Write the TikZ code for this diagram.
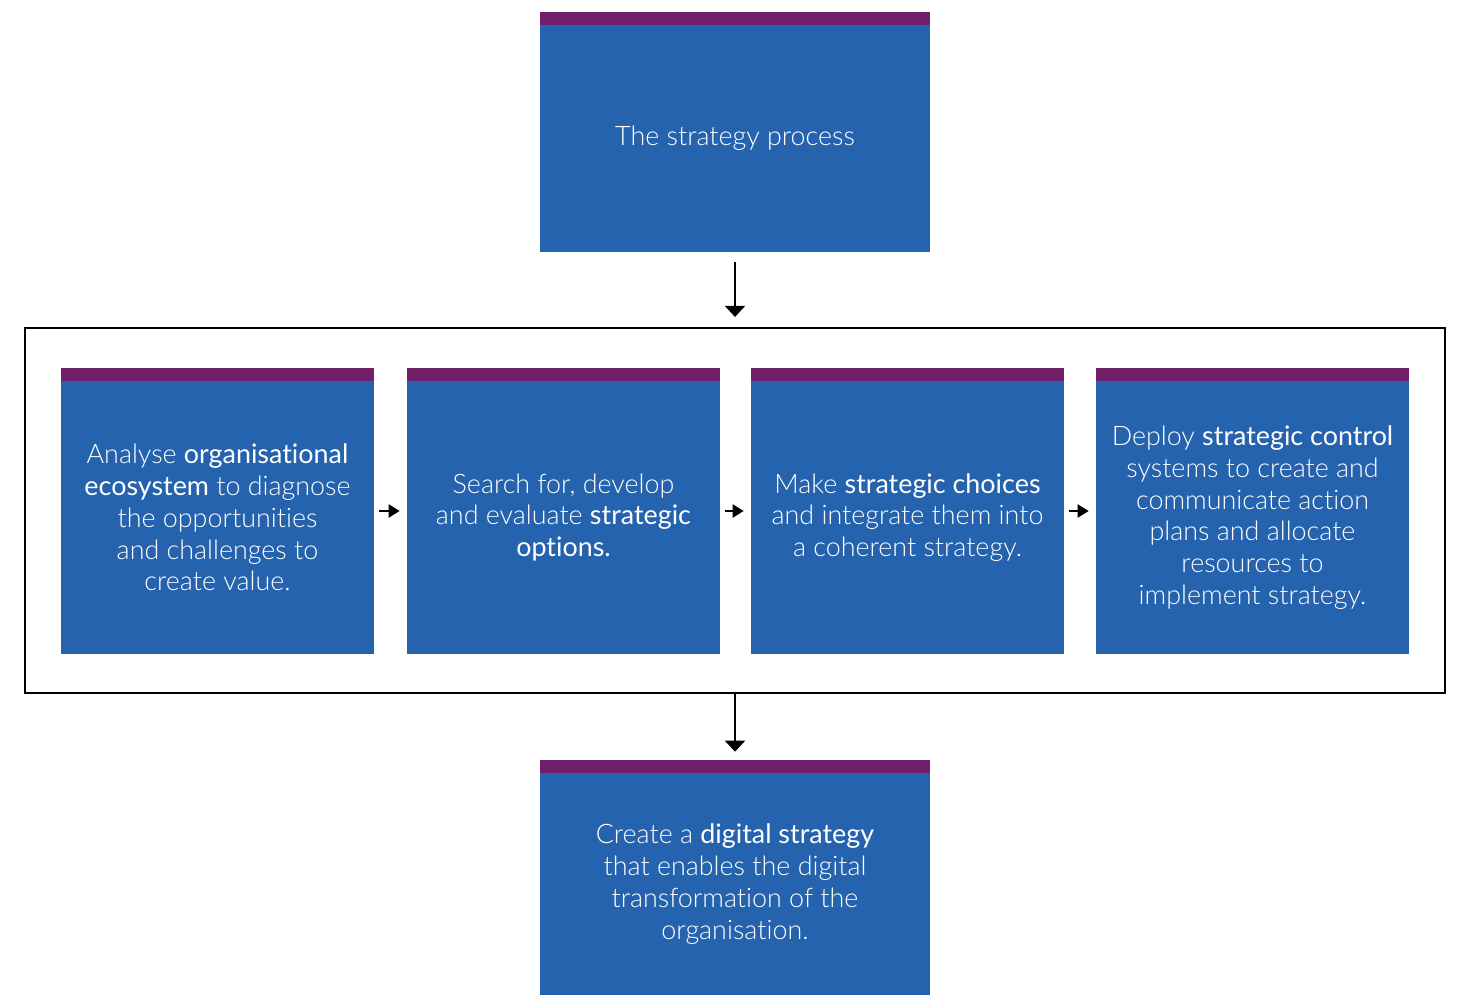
\documentclass[tikz,border=0pt]{standalone}
\usepackage{xcolor}
\usepackage{fontspec}
\setmainfont{Lato}[UprightFont={* Light},BoldFont={*},RawFeature=-liga]
\usetikzlibrary{arrows.meta}
\definecolor{stratblue}{RGB}{37,99,174}
\definecolor{stratpurple}{RGB}{112,32,106}
\tikzset{
  purplebar/.style={rectangle, fill=stratpurple, inner sep=0pt, minimum height=0.27cm},
  stratbox/.style={rectangle, fill=stratblue, text=white, align=center, inner sep=0pt,
    font=\fontsize{15.3}{18.1}\selectfont, minimum width=#1,
    label={[purplebar, minimum width=#1, label distance=-0.4pt]north:{}}},
  stepbox/.style={stratbox=6.26cm, minimum height=5.46cm},
  flow/.style={line width=0.04cm, -{Triangle[width=0.4cm,length=0.22cm]}},
  smallflow/.style={line width=0.04cm, -{Triangle[width=0.26cm,length=0.22cm]}}
}

\begin{document}
\begin{tikzpicture}[x=0.02cm, y=-0.02cm]
    \clip (0,0) rectangle (1459,995);
    \fill[white] (0,0) rectangle (1459,995);

    \node (top) at (735, 138.5) [stratbox=7.8cm, minimum height=4.54cm] {The strategy process};
    \node (frame) at (735, 510.5) [draw, line width=0.045cm, minimum width=28.4cm, minimum height=7.3cm] {};

    \node (s1) at (217.5, 517.5) [stepbox] {Analyse \textbf{organisational}\\\textbf{ecosystem} to diagnose\\the opportunities\\and challenges to\\create value.};
    \node (s2) at (563.5, 517.5) [stepbox] {Search for, develop\\and evaluate \textbf{strategic}\\\textbf{options.}};
    \node (s3) at (907.5, 517.5) [stepbox] {Make \textbf{strategic choices}\\and integrate them into\\a coherent strategy.};
    \node (s4) at (1252.5, 517.5) [stepbox] {Deploy \textbf{strategic control}\\systems to create and\\communicate action\\plans and allocate\\resources to\\implement strategy.};

    \node (dig) at (735, 884) [stratbox=7.8cm, minimum height=4.44cm] {Create a \textbf{digital strategy}\\that enables the digital\\transformation of the\\organisation.};

    \draw[flow, shorten <=0.2cm, shorten >=0.2cm] (top) to (frame);
    \draw[flow, shorten >=0.42cm] (frame) to (dig);
    \draw[smallflow, shorten <=0.1cm, shorten >=0.14cm] ([yshift=0.13cm]s1.east) to ([yshift=0.13cm]s2.west);
    \draw[smallflow, shorten <=0.1cm, shorten >=0.14cm] ([yshift=0.13cm]s2.east) to ([yshift=0.13cm]s3.west);
    \draw[smallflow, shorten <=0.1cm, shorten >=0.14cm] ([yshift=0.13cm]s3.east) to ([yshift=0.13cm]s4.west);
\end{tikzpicture}
\end{document}
